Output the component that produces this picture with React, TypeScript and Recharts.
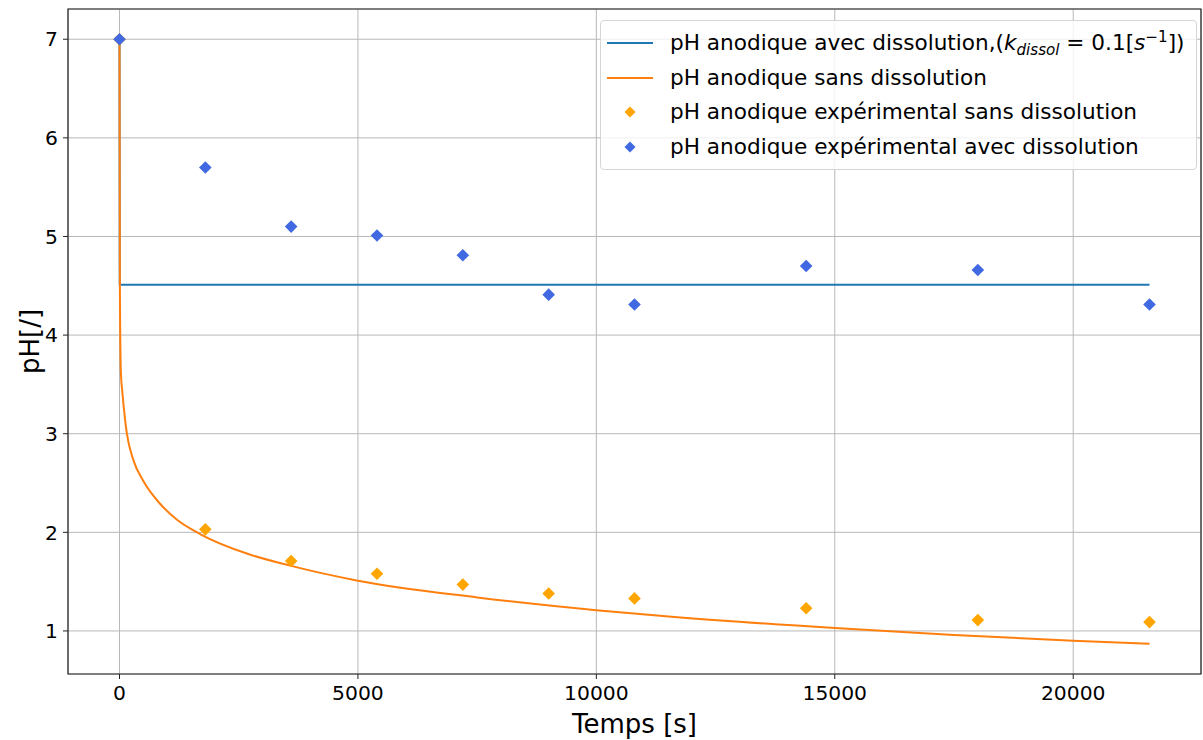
import React from 'react';
import {
  ComposedChart,
  Line,
  Scatter,
  XAxis,
  YAxis,
  CartesianGrid,
  Legend,
  ReferenceArea,
} from 'recharts';

// model curves
const timeModelAvec = [0, 5, 21600];
const phModelAvec = [7.0, 4.51, 4.51];

const timeModelSans = [0, 8, 29, 60, 120, 155, 293, 500, 850, 1200, 1700, 2700, 3600, 5000, 7500, 10000, 11700, 15000, 17500, 20000, 21600];
const phModelSans = [7.0, 4.5, 3.62, 3.42, 3.13, 3.0, 2.73, 2.52, 2.29, 2.13, 1.98, 1.78, 1.66, 1.51, 1.34, 1.21, 1.14, 1.03, 0.96, 0.9, 0.87];

// experimental points
const timeExpSans = [0, 1800, 3600, 5400, 7200, 9000, 10800, 14400, 18000, 21600];
const phExpSans = [7.0, 2.03, 1.71, 1.58, 1.47, 1.38, 1.33, 1.23, 1.11, 1.09];

const timeExpAvec = [0, 1800, 3600, 5400, 7200, 9000, 10800, 14400, 18000, 21600];
const phExpAvec = [7.0, 5.7, 5.1, 5.01, 4.81, 4.41, 4.31, 4.7, 4.66, 4.31];

const xTicks = [0, 5000, 10000, 15000, 20000];
const yTicks = [1, 2, 3, 4, 5, 6, 7];
const xDomain = [-1080, 22680];
const yDomain = [0.5635, 7.3065];

const toRows = (ts: number[], ys: number[]) => ts.map((t, i) => ({ t, ph: ys[i] }));

const modelAvec = toRows(timeModelAvec, phModelAvec);
const modelSans = toRows(timeModelSans, phModelSans);
const expSans = toRows(timeExpSans, phExpSans);
const expAvec = toRows(timeExpAvec, phExpAvec);

const FONT = '"DejaVu Sans", sans-serif';
const C_AVEC = '#1f77b4';
const C_SANS = '#ff7f0e';
const C_EXP_SANS = '#ffa500';
const C_EXP_AVEC = '#4169e1';

const Diamond = (props: any) => {
  const { cx, cy, fill } = props;
  if (cx == null || cy == null) return null;
  const r = 6.3;
  return <path d={`M${cx} ${cy - r}L${cx + r} ${cy}L${cx} ${cy + r}L${cx - r} ${cy}Z`} fill={fill} />;
};

const LegendIcon = ({ kind, color }: { kind: 'line' | 'diamond'; color: string }) => (
  <svg width={50} height={20} style={{ display: 'block' }}>
    {kind === 'line' ? (
      <line x1={4} y1={10} x2={50} y2={10} stroke={color} strokeWidth={2} />
    ) : (
      <path d="M27 4.5L32.5 10L27 15.5L21.5 10Z" fill={color} />
    )}
  </svg>
);

const legendRows = [
  { kind: 'line' as const, color: C_AVEC, key: 'avec' },
  { kind: 'line' as const, color: C_SANS, key: 'sans' },
  { kind: 'diamond' as const, color: C_EXP_SANS, key: 'expSans' },
  { kind: 'diamond' as const, color: C_EXP_AVEC, key: 'expAvec' },
];

const legendText = (key: string) => {
  if (key === 'avec') {
    return (
      <span>
        pH anodique avec dissolution,(<i>k</i>
        <sub style={{ fontSize: '0.7em', verticalAlign: '-0.3em' }}>
          <i>dissol</i>
        </sub>
        {' = 0.1['}
        <i>s</i>
        <sup style={{ fontSize: '0.7em', verticalAlign: '0.55em' }}>−1</sup>])
      </span>
    );
  }
  if (key === 'sans') return 'pH anodique sans dissolution';
  if (key === 'expSans') return 'pH anodique expérimental sans dissolution';
  return 'pH anodique expérimental avec dissolution';
};

const LegendBox = () => (
  <div
    style={{
      boxSizing: 'border-box',
      width: 597,
      padding: '5px 0 5px 0',
      border: '1px solid #d6d6d6',
      borderRadius: 4,
      background: 'rgba(255,255,255,0.8)',
      fontFamily: FONT,
      fontSize: 21.6,
      color: '#000',
    }}
  >
    {legendRows.map((r) => (
      <div key={r.key} style={{ display: 'flex', alignItems: 'center', height: 34.5, lineHeight: '34.5px' }}>
        <div style={{ marginLeft: 2, width: 67 }}>
          <LegendIcon kind={r.kind} color={r.color} />
        </div>
        <div style={{ whiteSpace: 'nowrap' }}>{legendText(r.key)}</div>
      </div>
    ))}
  </div>
);

export default function App() {
  return (
    <div style={{ position: 'absolute', left: 0, top: 0, width: 1203, height: 740, background: '#fff' }}>
      <ComposedChart width={1203} height={740} margin={{ top: 9, right: 2, bottom: 0, left: 0 }}>
        <CartesianGrid stroke="#b8b8b8" strokeWidth={1} />
        <XAxis
          dataKey="t"
          type="number"
          domain={xDomain}
          ticks={xTicks}
          allowDataOverflow
          height={66}
          axisLine={false}
          tickLine={{ stroke: '#222' }}
          tickSize={5}
          tickMargin={7}
          tick={{ fill: '#000', fontSize: 20.3, fontFamily: FONT }}
          label={{
            content: (p: any) => {
              const vb = p.viewBox;
              return (
                <text
                  x={vb.x + vb.width / 2}
                  y={vb.y + 59}
                  textAnchor="middle"
                  fontSize={26}
                  fontFamily={FONT}
                  fill="#000"
                >
                  Temps [s]
                </text>
              );
            },
          }}
        />
        <YAxis
          type="number"
          domain={yDomain}
          ticks={yTicks}
          allowDataOverflow
          width={68}
          axisLine={false}
          tickLine={{ stroke: '#222' }}
          tickSize={5}
          tickMargin={5}
          tick={{ fill: '#000', fontSize: 20.3, fontFamily: FONT }}
          label={{
            content: (p: any) => {
              const vb = p.viewBox;
              const cx = vb.x + 30;
              const cy = vb.y + vb.height / 2;
              return (
                <text
                  x={cx}
                  y={cy}
                  transform={`rotate(-90, ${cx}, ${cy})`}
                  textAnchor="middle"
                  dominantBaseline="central"
                  fontSize={26}
                  fontFamily={FONT}
                  fill="#000"
                >
                  pH[/]
                </text>
              );
            },
          }}
        />
        <Line
          data={modelAvec}
          dataKey="ph"
          type="linear"
          stroke={C_AVEC}
          strokeWidth={2}
          dot={false}
          activeDot={false}
          isAnimationActive={false}
        />
        <Line
          data={modelSans}
          dataKey="ph"
          type="monotone"
          stroke={C_SANS}
          strokeWidth={2}
          dot={false}
          activeDot={false}
          isAnimationActive={false}
        />
        <Scatter data={expSans} dataKey="ph" fill={C_EXP_SANS} shape={Diamond} isAnimationActive={false} />
        <Scatter data={expAvec} dataKey="ph" fill={C_EXP_AVEC} shape={Diamond} isAnimationActive={false} />
        <ReferenceArea
          x1={xDomain[0]}
          x2={xDomain[1]}
          y1={yDomain[0]}
          y2={yDomain[1]}
          fill="none"
          stroke="#222"
          strokeWidth={1.2}
          ifOverflow="visible"
        />
        <Legend
          layout="vertical"
          align="center"
          verticalAlign="middle"
          wrapperStyle={{ top: 20, left: 600, width: 597 }}
          content={() => <LegendBox />}
        />
      </ComposedChart>
    </div>
  );
}
